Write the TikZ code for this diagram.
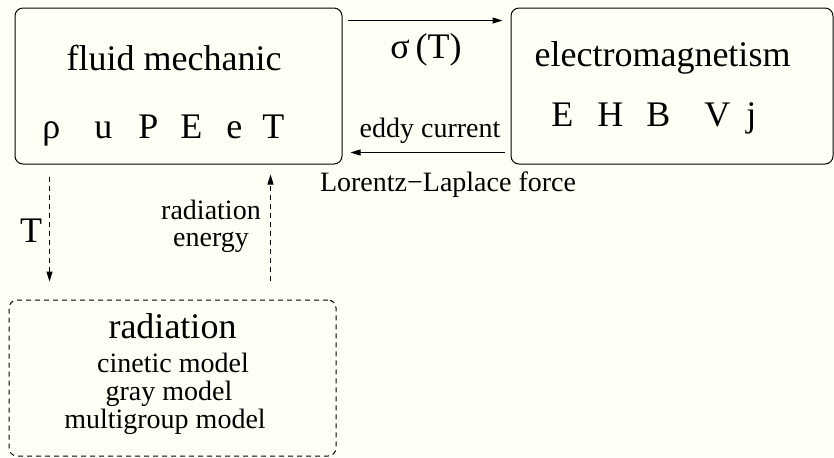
\documentclass[tikz,border=0pt]{standalone}
\usepackage{fontspec}
\setmainfont{Liberation Serif}
\usetikzlibrary{arrows.meta}
\definecolor{paper}{RGB}{255,255,246}
\tikzset{
  box/.style={
    draw,
    rounded corners=4pt,
    line width=0.5pt,
    minimum height=78pt,
    inner sep=0pt
  },
  dashbox/.style={
    box,
    dash pattern=on 2.5pt off 2pt
  },
  bigtext/.style={
    font=\fontsize{18}{18}\selectfont,
    inner sep=0pt,
    anchor=base
  },
  smalltext/.style={
    font=\fontsize{14}{14}\selectfont,
    inner sep=0pt,
    anchor=base
  },
  dashlink/.style={dash pattern=on 2.5pt off 2pt},
  every edge/.style={draw, -{Triangle[length=5pt,width=3pt]}, line width=0.5pt}
}

\begin{document}
\begin{tikzpicture}[x=0.5pt,y=-0.5pt]
  \useasboundingbox[fill=paper] (0,0) rectangle (834,457);

  \node[box, minimum width=163.5pt] (fluid) at (178.5,86) {};
  \node[box, minimum width=161pt] (em) at (672,86) {};
  \node[dashbox, minimum width=163.5pt] (rad) at (172.5,378) {};

  % fluid box
  \node[bigtext] (fluidname) at (174,70) {fluid mechanic};
  \node[bigtext, anchor=base west] (fluidvars) at (42,138)
    {ρ\hspace{17pt}u\hspace{13pt}P\hspace{11pt}E\hspace{12pt}e\hspace{10pt}T};

  % electromagnetism box
  \node[bigtext] (emname) at (662.5,66) {electromagnetism};
  \node[bigtext, anchor=base west] (emvars) at (551,126)
    {E\hspace{12pt}H\hspace{11.5pt}B\hspace{17pt}V\hspace{8pt}j};

  % radiation box
  \node[bigtext] (radname) at (172.5,338) {radiation};
  \node[smalltext] (cinetic) at (173,372) {cinetic model};
  \node[smalltext] (gray) at (169,400) {gray model};
  \node[smalltext] (multi) at (165,428) {multigroup model};

  % labels
  \node[bigtext] (sigma) at (426,58) {σ\,(T)};
  \node[smalltext] (eddy) at (430,137) {eddy current};
  \node[smalltext] (lorentz) at (448,191) {Lorentz−Laplace force};
  \node[bigtext] (tlabel) at (31,242) {T};
  \node[smalltext, anchor=center, align=center, font=\fontsize{14}{13.5}\selectfont]
    (radenergy) at (211,226) {radiation\\energy};

  \path ([shift={(5,13)}]fluid.north east) edge ([shift={(-8,13)}]em.north west)
        ([shift={(-6,-12)}]em.south west) edge ([shift={(8,-12)}]fluid.south east)
        ([shift={(35,12)}]fluid.south west) edge[dashlink] ([shift={(41,-18)}]rad.north west)
        ([shift={(262,-19)}]rad.north west) edge[dashlink] ([shift={(256,10)}]fluid.south west);
\end{tikzpicture}
\end{document}
